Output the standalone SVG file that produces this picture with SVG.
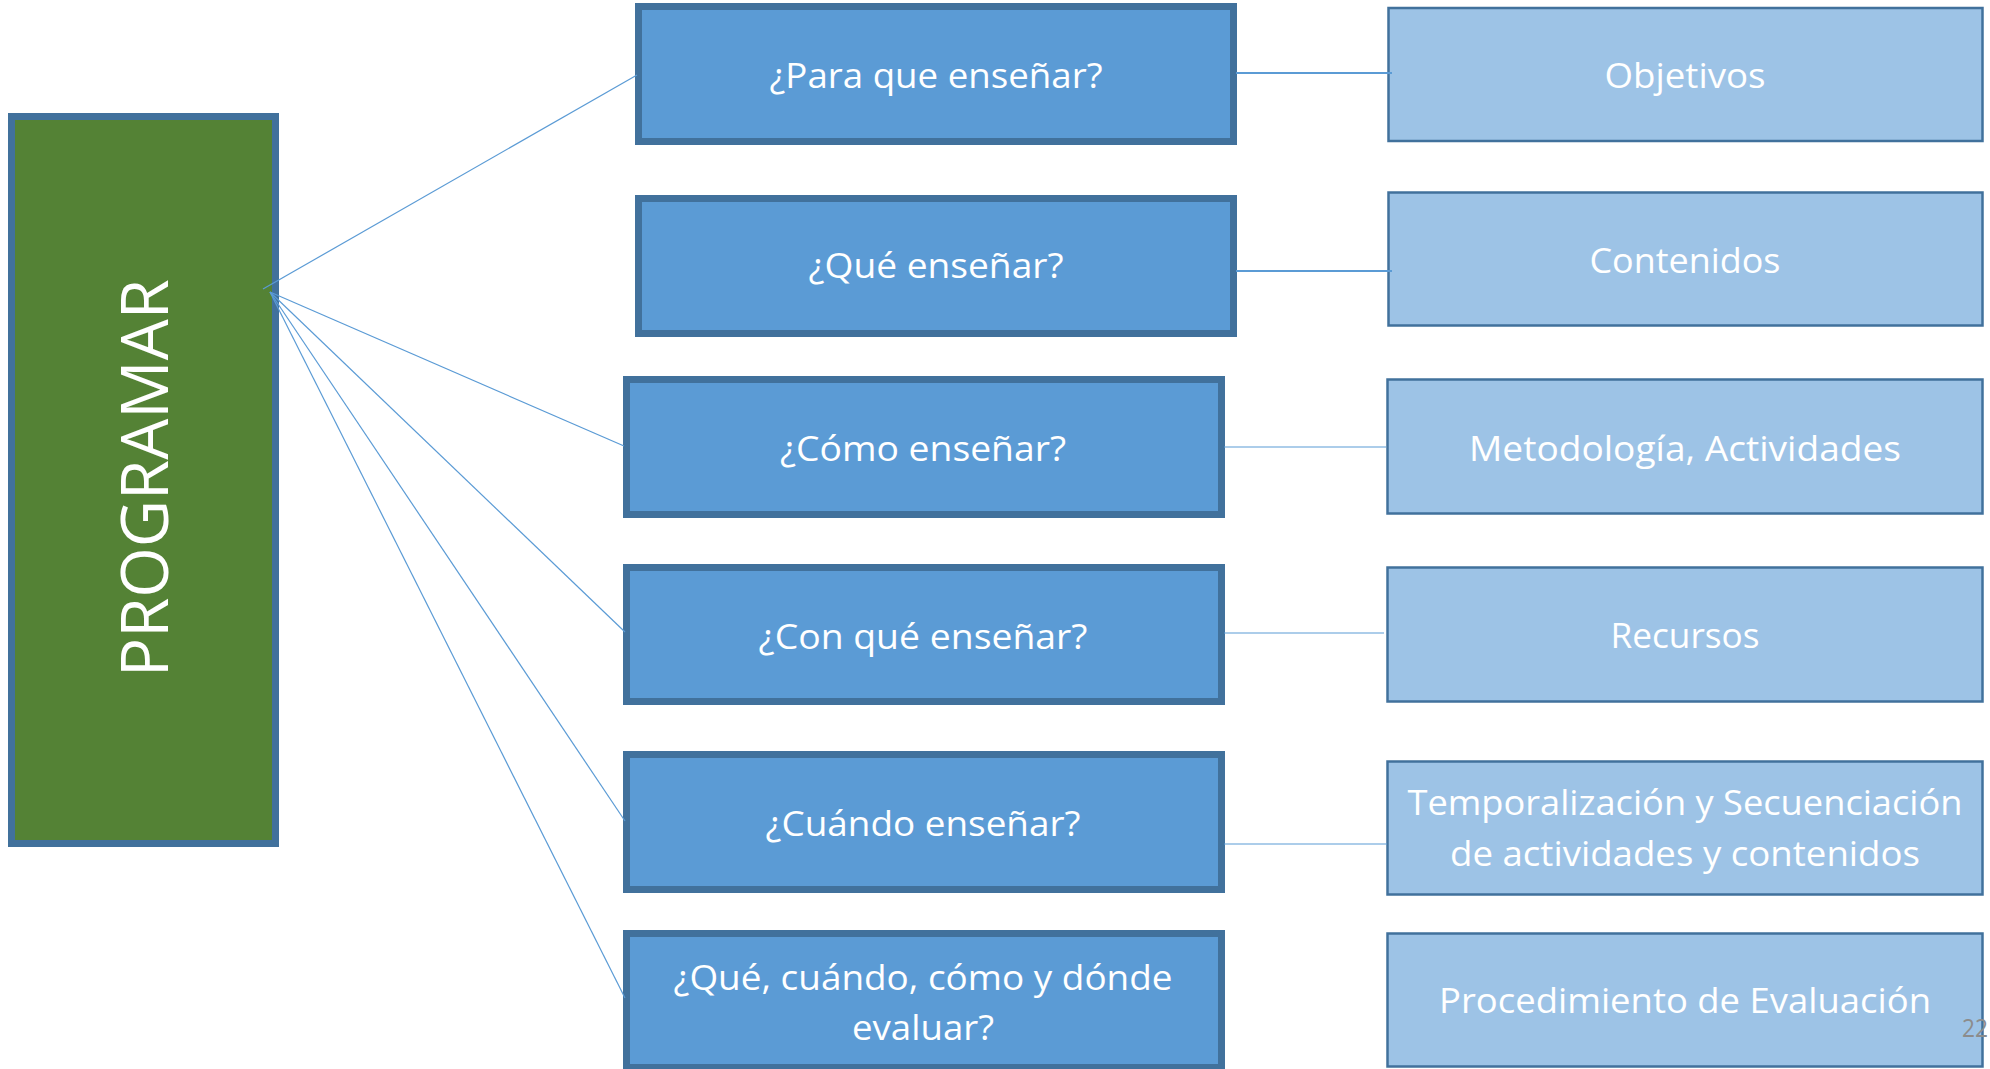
<svg xmlns="http://www.w3.org/2000/svg" width="1990" height="1069" viewBox="0 0 1990 1069">
<style>
.main{fill:#548235;stroke:#41719C;stroke-width:7}
.q{fill:#5B9BD5;stroke:#41719C;stroke-width:7}
.a{fill:#9DC3E6;stroke:#41719C;stroke-width:2.5}
.t{font-family:"Open Sans","Noto Sans","Liberation Sans",sans-serif;fill:#FFFFFF;text-anchor:middle}
.m{font-size:35px}
.c{stroke:#5B9BD5;fill:none}
.thin{stroke-width:1.2}
.h{stroke-width:2}
</style>
<rect width="1990" height="1069" fill="#FFFFFF"/>
<g id="programar">
<rect class="main" x="11.5" y="116.5" width="264" height="727"/>
<text class="t" font-size="65" transform="translate(168,478) rotate(-90)">PROGRAMAR</text>
</g>
<g id="q1">
<rect class="q" x="638.5" y="6.5" width="595" height="135"/>
<text class="t m" x="936" y="88" textLength="333" lengthAdjust="spacingAndGlyphs">¿Para que enseñar?</text>
</g>
<g id="q2">
<rect class="q" x="638.5" y="198.5" width="595" height="135"/>
<text class="t m" x="936" y="278" textLength="255" lengthAdjust="spacingAndGlyphs">¿Qué enseñar?</text>
</g>
<g id="q3">
<rect class="q" x="626.5" y="379.5" width="595" height="135"/>
<text class="t m" x="923" y="461" textLength="286" lengthAdjust="spacingAndGlyphs">¿Cómo enseñar?</text>
</g>
<g id="q4">
<rect class="q" x="626.5" y="567.5" width="595" height="134"/>
<text class="t m" x="923" y="649" textLength="329" lengthAdjust="spacingAndGlyphs">¿Con qué enseñar?</text>
</g>
<g id="q5">
<rect class="q" x="626.5" y="754.5" width="595" height="135"/>
<text class="t m" x="923" y="836" textLength="315" lengthAdjust="spacingAndGlyphs">¿Cuándo enseñar?</text>
</g>
<g id="q6">
<rect class="q" x="626.5" y="933.5" width="595" height="134"/>
<text class="t m" x="923" y="990" textLength="499" lengthAdjust="spacingAndGlyphs">¿Qué, cuándo, cómo y dónde</text>
<text class="t m" x="923" y="1040" textLength="142" lengthAdjust="spacingAndGlyphs">evaluar?</text>
</g>
<g id="a1">
<rect class="a" x="1388.5" y="8" width="594" height="133"/>
<text class="t m" x="1685" y="88" textLength="161" lengthAdjust="spacingAndGlyphs">Objetivos</text>
</g>
<g id="a2">
<rect class="a" x="1388.5" y="192.5" width="594" height="133"/>
<text class="t m" x="1685" y="273" textLength="191" lengthAdjust="spacingAndGlyphs">Contenidos</text>
</g>
<g id="a3">
<rect class="a" x="1387.5" y="379.5" width="595" height="134"/>
<text class="t m" x="1685" y="461" textLength="432" lengthAdjust="spacingAndGlyphs">Metodología, Actividades</text>
</g>
<g id="a4">
<rect class="a" x="1387.5" y="567.5" width="595" height="134"/>
<text class="t m" x="1685" y="648" textLength="149" lengthAdjust="spacingAndGlyphs">Recursos</text>
</g>
<g id="a5">
<rect class="a" x="1387.5" y="761.5" width="595" height="133"/>
<text class="t m" x="1685" y="815" textLength="555" lengthAdjust="spacingAndGlyphs">Temporalización y Secuenciación</text>
<text class="t m" x="1685" y="866" textLength="470" lengthAdjust="spacingAndGlyphs">de actividades y contenidos</text>
</g>
<g id="a6">
<rect class="a" x="1387.5" y="933.5" width="595" height="133"/>
<text class="t m" x="1685" y="1013" textLength="492" lengthAdjust="spacingAndGlyphs">Procedimiento de Evaluación</text>
</g>
<g id="connectors">
<line class="c thin" x1="263" y1="289" x2="637" y2="75"/>
<line class="c thin" x1="270" y1="292" x2="624" y2="446"/>
<line class="c thin" x1="270" y1="292" x2="625" y2="632"/>
<line class="c thin" x1="270" y1="292" x2="625" y2="821"/>
<line class="c thin" x1="270" y1="292" x2="625" y2="998"/>
<line class="c h" x1="1236" y1="73" x2="1392" y2="73"/>
<line class="c h" x1="1236" y1="271" x2="1392" y2="271"/>
<line class="c thin" x1="1224" y1="447" x2="1386" y2="447"/>
<line class="c thin" x1="1224" y1="633" x2="1384" y2="633"/>
<line class="c thin" x1="1224" y1="844" x2="1387" y2="844"/>
</g>
<text x="1962" y="1037" font-family="Open Sans,Liberation Sans,sans-serif" font-size="25" fill="#8C8C8C" textLength="26" lengthAdjust="spacingAndGlyphs">22</text>
</svg>
